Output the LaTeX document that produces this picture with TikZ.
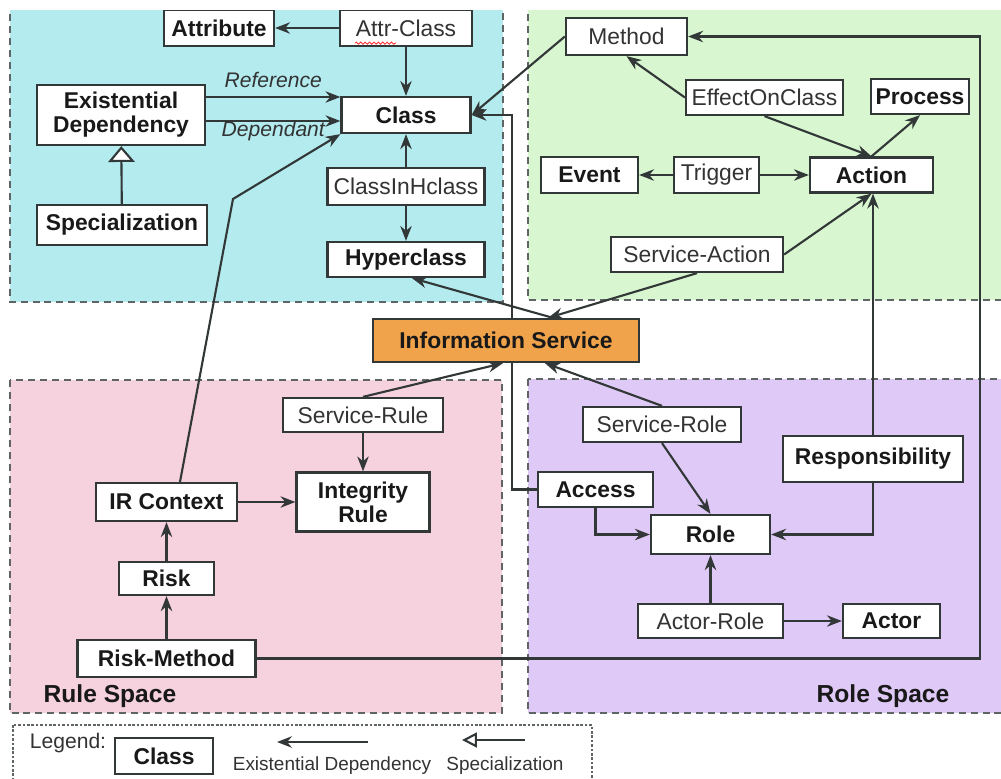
\documentclass[tikz,border=0pt]{standalone}
\usepackage{fontspec}
\setmainfont{Liberation Sans}
\usetikzlibrary{arrows.meta, decorations.pathmorphing}

\definecolor{classcyan}{RGB}{180,235,239}
\definecolor{actiongreen}{RGB}{216,246,207}
\definecolor{rulepink}{RGB}{246,209,222}
\definecolor{rolepurple}{RGB}{223,201,246}
\definecolor{serviceorange}{RGB}{240,163,74}
\definecolor{linegray}{RGB}{50,55,55}
\definecolor{framegray}{RGB}{95,100,100}

\pgfdeclarelayer{regions}
\pgfdeclarelayer{edges}
\pgfsetlayers{regions,edges,main}

\begin{document}
\begin{tikzpicture}[x=0.02cm, y=-0.02cm]
        % Define styles
        \tikzset{
            entity/.style={rectangle, draw=linegray, line width=1.3pt, fill=white, inner sep=2pt, align=center, text=black!90, font=\fontsize{13}{13.6}\selectfont\bfseries},
            link/.style={entity, text=black!80, font=\fontsize{13}{13.6}\selectfont},
            service/.style={entity, fill=serviceorange},
            spacelabel/.style={font=\fontsize{14}{16}\selectfont\bfseries, text=black!90},
            rolelabel/.style={font=\fontsize{12}{14}\selectfont\itshape, text=black!80},
            legendtext/.style={font=\fontsize{10.8}{12}\selectfont, text=black!80},
            spaceframe/.style={draw=framegray, line width=1.3pt, dash pattern=on 4pt off 2.8pt},
            legendframe/.style={draw=framegray, line width=0.8pt, dash pattern=on 1.5pt off 1pt},
            arrow/.style={draw=linegray, line width=1.2pt, -{Stealth[length=8.5pt, width=6.5pt]}},
            spec/.style={draw=linegray, line width=1.2pt, -{Triangle[fill=white, length=9pt, width=15pt]}},
            legendspec/.style={draw=linegray, line width=1.2pt, -{Triangle[fill=white, length=8.5pt, width=8.5pt]}}
        }
        \useasboundingbox (0,0) rectangle (1001,778);
        \clip (0,10.5) rectangle (1001,778);

        % Spaces
        \begin{pgfonlayer}{regions}
        \clip (0,10.5) rectangle (1001,778);
        \draw[spaceframe, fill=classcyan] (10,-10) rectangle (503,302);
        \draw[spaceframe, fill=actiongreen] (528,-10) rectangle (1020,300);
        \draw[spaceframe, fill=rulepink] (10,380) rectangle (502,713);
        \draw[spaceframe, fill=rolepurple] (528,379) rectangle (1020,713);
        \draw[legendframe] (13,725) rectangle (592,800);
        \end{pgfonlayer}

        % Nodes: class space
        \node[entity, minimum width=2.2cm, minimum height=0.72cm] (attribute) at (219,28) {Attribute};
        \node[link, minimum width=2.64cm, minimum height=0.72cm] (attrclass) at (406,28) {Attr-Class};
        \node[entity, minimum width=3.36cm, minimum height=1.2cm] (exdep) at (121,115) {Existential\\Dependency};
        \node[entity, minimum width=2.58cm, minimum height=0.72cm] (class) at (406,115) {Class};
        \node[entity, minimum width=3.4cm, minimum height=0.8cm] (specialization) at (122,225) {Specialization};
        \node[link, minimum width=3.14cm, minimum height=0.74cm] (classinhclass) at (406,186.5) {ClassInHclass};
        \node[entity, minimum width=3.14cm, minimum height=0.7cm] (hyperclass) at (406,259.5) {Hyperclass};
        \coordinate (irbend) at (233,199);

        % Nodes: action space
        \node[link, minimum width=2.42cm, minimum height=0.74cm] (method) at (626.5,36.5) {Method};
        \node[link, minimum width=3.14cm, minimum height=0.7cm] (effectonclass) at (764.5,97.5) {EffectOnClass};
        \node[entity, minimum width=1.96cm, minimum height=0.7cm] (process) at (920,96.5) {Process};
        \node[entity, minimum width=1.94cm, minimum height=0.72cm] (event) at (589.5,175) {Event};
        \node[link, minimum width=1.7cm, minimum height=0.72cm] (trigger) at (716.5,175) {Trigger};
        \node[entity, minimum width=2.46cm, minimum height=0.7cm] (action) at (871.5,175) {Action};
        \node[link, minimum width=3.44cm, minimum height=0.7cm] (serviceaction) at (697,254.5) {Service-Action};

        % Nodes: centre
        \node[service, minimum width=5.32cm, minimum height=0.86cm] (infoservice) at (506,340.5) {Information Service};

        % Nodes: rule space
        \node[link, minimum width=3.2cm, minimum height=0.68cm] (servicerule) at (363,415) {Service-Rule};
        \node[entity, minimum width=2.66cm, minimum height=1.18cm] (integrityrule) at (363,502) {Integrity\\Rule};
        \node[entity, minimum width=2.82cm, minimum height=0.76cm] (ircontext) at (166.5,502) {IR Context};
        \node[entity, minimum width=1.9cm, minimum height=0.66cm] (risk) at (166.5,578.5) {Risk};
        \node[entity, minimum width=3.56cm, minimum height=0.74cm] (riskmethod) at (166.5,658.5) {Risk-Method};
        \node[spacelabel] (rulespace) at (110,696) {Rule Space};
        \coordinate (rmturn) at (980,300);

        % Nodes: role space
        \node[link, minimum width=3.16cm, minimum height=0.7cm] (servicerole) at (662,424.5) {Service-Role};
        \node[entity, minimum width=2.3cm, minimum height=0.7cm] (access) at (595.5,489.5) {Access};
        \node[entity, minimum width=3.6cm, minimum height=0.92cm] (responsibility) at (873,459) {Responsibility};
        \node[entity, minimum width=2.38cm, minimum height=0.78cm] (role) at (710.5,534.5) {Role};
        \node[link, minimum width=2.9cm, minimum height=0.68cm] (actorrole) at (710.5,621) {Actor-Role};
        \node[entity, minimum width=1.94cm, minimum height=0.68cm] (actor) at (891.5,621) {Actor};
        \node[spacelabel] (rolespace) at (883,696) {Role Space};

        % Legend
        \node[legendtext, font=\fontsize{12}{14}\selectfont] (legendlabel) at (68,743) {Legend:};
        \node[entity, minimum width=1.96cm, minimum height=0.72cm] (legendclass) at (164,756) {Class};
        \coordinate (edtail) at (368,742);
        \coordinate (edhead) at (277,742);
        \node[legendtext] (edlabel) at (332,766) {Existential Dependency};
        \coordinate (sptail) at (525,740);
        \coordinate (sphead) at (462,740);
        \node[legendtext] (splabel) at (505,766) {Specialization};

        % spell-check mark under Attr
        \draw[red!80, line width=0.5pt, decorate, decoration={snake, amplitude=0.6pt, segment length=2.5pt}] ([shift={(-51,-4)}]attrclass.south) -- ([shift={(-10,-4)}]attrclass.south);

        % Arrows
        \begin{pgfonlayer}{edges}
        \draw[arrow] (attrclass) -- (attribute);
        \draw[arrow] (attrclass) -- (class);
        \draw[arrow] ([shift={(0,-18)}]exdep.east) coordinate (refstart) -- (refstart -| class.west) node[midway, shift={(0,-17)}, rolelabel] {Reference};
        \draw[arrow] ([shift={(0,6)}]exdep.east) coordinate (depstart) -- (depstart -| class.west) node[midway, shift={(0,10)}, rolelabel] {Dependant};
        \draw[spec] (specialization) -- (exdep);
        \draw[arrow] (classinhclass) -- (class);
        \draw[arrow] (classinhclass) -- (hyperclass);
        \draw[arrow] ([shift={(13.5,0)}]ircontext.north) -- (irbend) -- (class.south west);
        \draw[arrow] (method.west) -- (class.east);
        \draw[arrow] (access.west) -- ++(-25,0) |- (class.east);
        \draw[arrow] ([shift={(47,0)}]infoservice.north) -- ([shift={(6,0)}]hyperclass.south);

        \draw[arrow] (effectonclass.west) -- (method.south);
        \draw[arrow] (effectonclass.south) -- (action.north);
        \draw[arrow] (action.north) -- (process.south);
        \draw[arrow] (trigger) -- (event);
        \draw[arrow] (trigger) -- (action);
        \draw[arrow] (serviceaction.east) -- (action.south);
        \draw[arrow] (serviceaction.south) -- ([shift={(42,0)}]infoservice.north);

        \draw[arrow] (responsibility.north) -- (responsibility.north |- action.south);
        \draw[arrow] (responsibility.south) |- (role.east);
        \draw[arrow] (servicerole.north) -- ([shift={(39,0)}]infoservice.south);
        \draw[arrow] (servicerole.south) -- (role.north);
        \draw[arrow] (access.south) |- (role.west);
        \draw[arrow] (actorrole) -- (role);
        \draw[arrow] (actorrole) -- (actor);

        \draw[arrow] (servicerule.north) -- ([shift={(-3,0)}]infoservice.south);
        \draw[arrow] (servicerule) -- (integrityrule);
        \draw[arrow] (ircontext) -- (integrityrule);
        \draw[arrow] (risk) -- (ircontext);
        \draw[arrow] (riskmethod) -- (risk);
        \draw[arrow] (riskmethod.east) -| (rmturn) |- (method.east);

        \draw[arrow] (edtail) -- (edhead);
        \draw[legendspec] (sptail) -- (sphead);
        \end{pgfonlayer}
    \end{tikzpicture}
\end{document}
